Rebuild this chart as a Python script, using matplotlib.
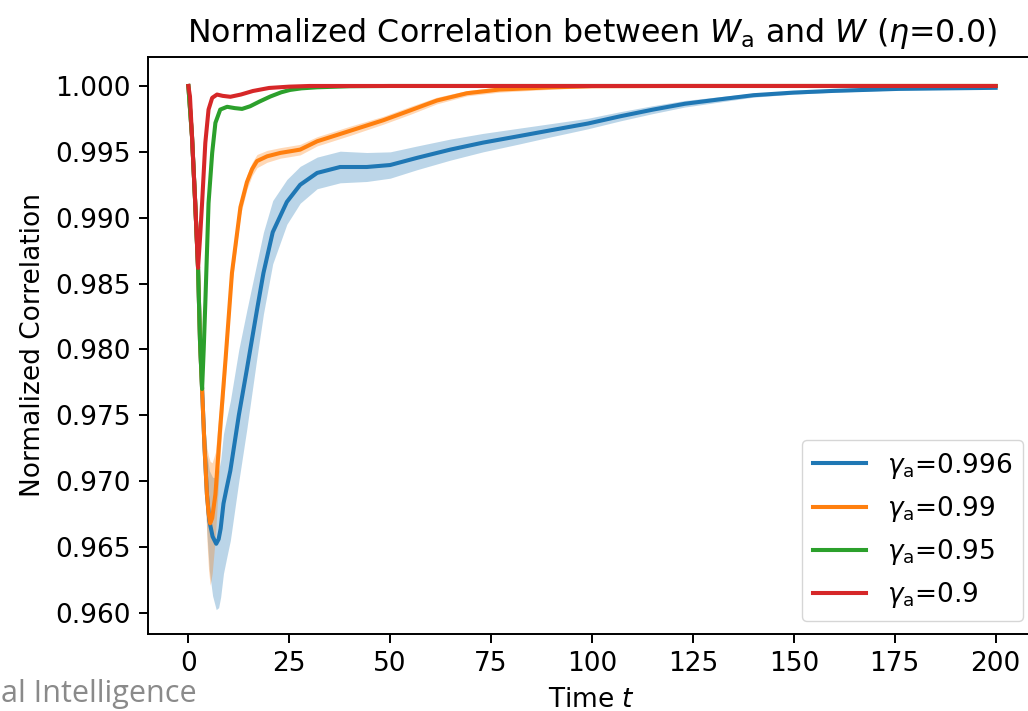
"""Normalized correlation between W_a and W for several gamma_a values (eta=0.0)."""
import numpy as np
import matplotlib
matplotlib.use("Agg")
import matplotlib.pyplot as plt

# scale factors of the source figure relative to matplotlib defaults
S = 1.76   # lines, ticks
F = 1.9    # text
plt.rcParams.update({
    "font.size": 10 * F,
    "lines.linewidth": 1.5 * 1.95,
    "axes.linewidth": 0.8 * S,
    "xtick.major.size": 3.5 * S, "ytick.major.size": 3.5 * S,
    "xtick.major.width": 0.8 * S, "ytick.major.width": 0.8 * S,
    "xtick.major.pad": 3.5 * S, "ytick.major.pad": 3.5 * S,
    "axes.labelpad": 4.0 * S, "axes.titlepad": 6.0 * S,
    "legend.fontsize": 10 * F,
})

# gamma_a = 0.996
t_996 = [0, 0.9, 1.7, 2.4, 2.9, 3.4, 4.0, 4.6, 5.2, 6.0, 6.9, 7.5, 8.0, 8.7, 9.5, 10.4,
         12.5, 14.5, 17.0, 18.6, 20.9, 24.4, 27.7, 31.9, 37.6, 44.2, 50, 56.6, 64.9, 73,
         82, 90, 99, 107, 115, 123, 132, 140, 150, 160, 176, 200]
v_996 = [1.0, 0.99618, 0.99111, 0.98619, 0.9805, 0.9770, 0.9726, 0.9690, 0.9670, 0.9658,
         0.96525, 0.9656, 0.9664, 0.9683, 0.9695, 0.9708, 0.9750, 0.9785, 0.9830, 0.9858,
         0.9889, 0.9912, 0.9925, 0.9934, 0.99385, 0.99385, 0.9940, 0.99454, 0.99517,
         0.9957, 0.9962, 0.99665, 0.99715, 0.9977, 0.9982, 0.99865, 0.9990, 0.9993,
         0.9995, 0.99963, 0.99978, 0.99986]
s_996 = [0, 0.0003, 0.0008, 0.001, 0.0013, 0.0017, 0.0023, 0.003, 0.0038, 0.0045, 0.005,
         0.0052, 0.0052, 0.0053, 0.0053, 0.0053, 0.005, 0.0045, 0.0036, 0.0031, 0.0024,
         0.0017, 0.0014, 0.0012, 0.0012, 0.0011, 0.001, 0.0009, 0.0008, 0.0007, 0.0006,
         0.0005, 0.0004, 0.00035, 0.0003, 0.00025, 0.0002, 0.00015, 0.00012, 0.0001,
         0.00008, 0.00006]

# gamma_a = 0.99
t_99 = [0, 0.9, 1.7, 2.4, 2.9, 3.4, 4.0, 4.6, 5.0, 5.4, 5.9, 6.7, 7.9, 9.2, 10.8, 12.9,
        14.5, 15.8, 17.0, 19.5, 22.8, 25.2, 27.7, 31.9, 40.1, 48.3, 55, 61.6, 69, 77, 90,
        100, 120, 200]
v_99 = [1.0, 0.99618, 0.99111, 0.98619, 0.9805, 0.9770, 0.9726, 0.9690, 0.9676, 0.9668,
        0.9672, 0.9690, 0.9741, 0.9792, 0.9858, 0.9908, 0.9927, 0.9937, 0.9943, 0.99466,
        0.99492, 0.99504, 0.99517, 0.9958, 0.99660, 0.99740, 0.99815, 0.99890, 0.99945,
        0.99973, 0.9999, 0.99998, 1.0, 1.0]
s_99 = [0, 0.0001, 0.0002, 0.0003, 0.0004, 0.0005, 0.0018, 0.0035, 0.0043, 0.0047, 0.0042,
        0.0032, 0.002, 0.0012, 0.0008, 0.0006, 0.00055, 0.0005, 0.0005, 0.00045, 0.0004,
        0.0004, 0.0004, 0.00035, 0.00035, 0.0003, 0.0003, 0.00025, 0.0002, 0.0002,
        0.00015, 0.0001, 0.00003, 0]

# gamma_a = 0.95
t_95 = [0, 0.9, 1.7, 2.4, 2.9, 3.4, 3.8, 4.2, 5.0, 5.9, 6.7, 7.9, 9.6, 11.5, 13.3, 15.3,
        17.5, 20.3, 23, 25.2, 28, 31.9, 40, 50, 200]
v_95 = [1.0, 0.99618, 0.99111, 0.98619, 0.9805, 0.9770, 0.9800, 0.9835, 0.99111, 0.99492,
        0.9972, 0.99821, 0.99842, 0.99832, 0.99826, 0.99846, 0.9988, 0.9992, 0.99952,
        0.9997, 0.99982, 0.9999, 0.99998, 1.0, 1.0]

# gamma_a = 0.9
t_9 = [0, 0.4, 0.9, 1.7, 2.4, 2.9, 3.4, 4.2, 5.0, 5.9, 7.1, 8.5, 10.4, 13, 16, 20, 25, 30, 200]
v_9 = [1.0, 0.9992, 0.99618, 0.99111, 0.98619, 0.9885, 0.99111, 0.99568, 0.99821, 0.9991,
       0.99935, 0.99925, 0.99918, 0.99935, 0.99962, 0.99985, 0.99995, 1.0, 1.0]

series = [
    (r"$\gamma_\mathrm{a}$=0.996", t_996, v_996, s_996, "C0"),
    (r"$\gamma_\mathrm{a}$=0.99", t_99, v_99, s_99, "C1"),
    (r"$\gamma_\mathrm{a}$=0.95", t_95, v_95, None, "C2"),
    (r"$\gamma_\mathrm{a}$=0.9", t_9, v_9, None, "C3"),
]

fig = plt.figure(figsize=(10.28, 7.11), dpi=100)
# the source screenshot is cropped: the right spine sits just past the image edge
ax = fig.add_axes([148 / 1028, 77 / 711, 888 / 1028, 577 / 711])

for label, t, v, s, color in series:
    t = np.array(t)
    v = np.array(v)
    ax.plot(t, v, color=color, label=label)
    if s is not None:
        s = np.array(s)
        ax.fill_between(t, v - s, v + s, color=color, alpha=0.3, linewidth=0)

ax.set_xlim(-10, 210)
ax.set_ylim(0.9584, 1.0022)
ax.set_xticks(np.arange(0, 201, 25))
yt = np.arange(0.960, 1.0001, 0.005)
ax.set_yticks(yt)
ax.set_yticklabels([f"{y:.3f}" for y in yt])
ax.set_xlabel("Time $t$")
ax.set_ylabel("Normalized Correlation")
ax.set_title(r"Normalized Correlation between $W_\mathrm{a}$ and $W$ ($\eta$=0.0)")
ax.legend(loc="lower right")

# leftover of the slide footer under the chart
fig.text(1 / 1028, 17 / 711, "al Intelligence", color="#8a8a8a", fontsize=22,
         family=["Open Sans", "DejaVu Sans"], ha="left", va="center")

fig.savefig("out.png", dpi=100)
